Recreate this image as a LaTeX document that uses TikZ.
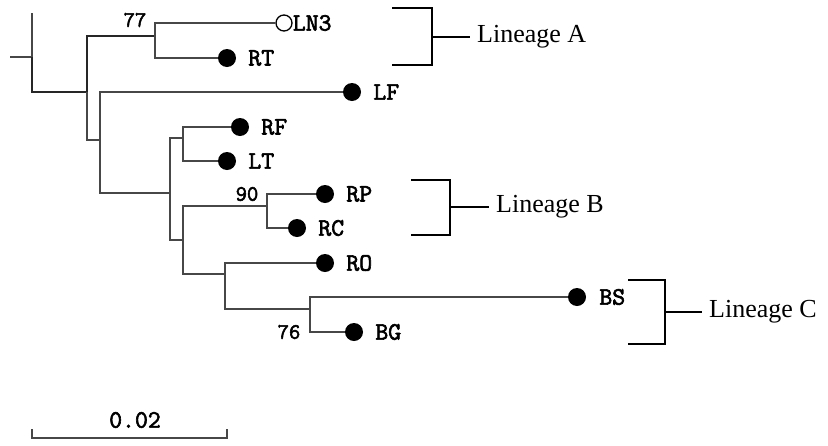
\documentclass[tikz,border=0pt]{standalone}
\usepackage{fontspec}
\setmainfont{Liberation Serif}
\setmonofont{Latin Modern Mono}[AutoFakeBold=2.5]
\tikzset{
  branch/.style={draw=black!72, line width=1.2pt},
  trunk/.style={draw=black!85, line width=1.7pt},
  leaf/.style={circle, fill=black, inner sep=0pt, minimum size=18pt},
  openleaf/.style={circle, draw=black, line width=1.3pt, fill=white, inner sep=0pt, minimum size=16pt},
  taxon/.style={font=\ttfamily\bfseries\fontsize{25}{27}\selectfont, inner sep=0pt, anchor=west},
  support/.style={font=\ttfamily\bfseries\fontsize{22}{24}\selectfont, inner sep=0pt},
  bracket/.style={draw=black, line width=1.8pt},
  lineage/.style={font=\fontsize{26}{28}\selectfont, inner sep=0pt, anchor=west},
}
\begin{document}
\begin{tikzpicture}[x=1pt, y=-1pt]
\useasboundingbox (0,0) rectangle (828,445);

% internal nodes of the tree
\coordinate (stub) at (10,57);
\coordinate (rtop) at (32,13);
\coordinate (root) at (32,57);
\coordinate (nA)   at (87,92);
\coordinate (n77)  at (155,36);
\coordinate (nB)   at (100,140);
\coordinate (nC)   at (170,193);
\coordinate (nD)   at (183,138);
\coordinate (nE)   at (183,240);
\coordinate (n90)  at (267,206);
\coordinate (nF)   at (225,274);
\coordinate (n76)  at (310,309);

% tips
\node[openleaf] (LN3) at (284,23) {};
\node[leaf] (RT) at (227,58) {};
\node[leaf] (LF) at (352,92) {};
\node[leaf] (RF) at (240,127) {};
\node[leaf] (LT) at (227,161) {};
\node[leaf] (RP) at (325,194) {};
\node[leaf] (RC) at (297,228) {};
\node[leaf] (RO) at (325,263) {};
\node[leaf] (BS) at (577,297) {};
\node[leaf] (BG) at (354,332) {};

% tip labels
\node[taxon] (tLN3) at ([xshift=0pt]LN3.east) {LN3};
\node[taxon] (tRT) at ([xshift=12pt]RT.east) {RT};
\node[taxon] (tLF) at ([xshift=12pt]LF.east) {LF};
\node[taxon] (tRF) at ([xshift=12pt]RF.east) {RF};
\node[taxon] (tLT) at ([xshift=12pt]LT.east) {LT};
\node[taxon] (tRP) at ([xshift=12pt]RP.east) {RP};
\node[taxon] (tRC) at ([xshift=12pt]RC.east) {RC};
\node[taxon] (tRO) at ([xshift=12pt]RO.east) {RO};
\node[taxon] (tBS) at ([xshift=13pt]BS.east) {BS};
\node[taxon] (tBG) at ([xshift=12pt]BG.east) {BG};

% branches
\draw[branch] (stub) -- (root);
\draw[branch] (rtop) -- (root);
\draw[trunk] (root) |- (nA);
\draw[trunk] (nA) |- (n77);
\draw[branch] (nA) |- (nB);
\draw[branch] (n77) |- (LN3);
\draw[branch] (n77) |- (RT);
\draw[branch] (nB) |- (LF);
\draw[branch] (nB) |- (nC);
\draw[branch] (nC) |- (nD);
\draw[branch] (nC) |- (nE);
\draw[branch] (nD) |- (RF);
\draw[branch] (nD) |- (LT);
\draw[branch] (nE) |- (n90);
\draw[branch] (nE) |- (nF);
\draw[branch] (n90) |- (RP);
\draw[branch] (n90) |- (RC);
\draw[branch] (nF) |- (RO);
\draw[branch] (nF) |- (n76);
\draw[branch] (n76) |- (BS);
\draw[branch] (n76) |- (BG);

% bootstrap support values
\node[support] (s77) at (135,20) {77};
\node[support] (s90) at (247,194) {90};
\node[support] (s76) at (289,332) {76};

% lineage brackets
\coordinate (aT) at (392,8);   \coordinate (aB) at (392,65);
\coordinate (aM) at (432,37);  \coordinate (aE) at (470,37);
\draw[bracket] (aT) -| (aM) |- (aB);
\draw[bracket] (aM) -- (aE);
\node[lineage] (LA) at ([xshift=7pt]aE) {Lineage A};

\coordinate (bT) at (411,180); \coordinate (bB) at (411,235);
\coordinate (bM) at (450,207); \coordinate (bE) at (489,207);
\draw[bracket] (bT) -| (bM) |- (bB);
\draw[bracket] (bM) -- (bE);
\node[lineage] (LB) at ([xshift=7pt]bE) {Lineage B};

\coordinate (cT) at (628,280); \coordinate (cB) at (628,344);
\coordinate (cM) at (665,312); \coordinate (cE) at (702,312);
\draw[bracket] (cT) -| (cM) |- (cB);
\draw[bracket] (cM) -- (cE);
\node[lineage] (LC) at ([xshift=7pt]cE) {Lineage C};

% scale bar
\coordinate (sbL) at (32,438);
\coordinate (sbR) at (227,438);
\draw[branch] ([yshift=9pt]sbL) -- (sbL) -- (sbR) -- ([yshift=9pt]sbR);
\node[font=\ttfamily\bfseries\fontsize{25}{27}\selectfont, inner sep=0pt] (sbt) at (135,420) {0.02};
\end{tikzpicture}
\end{document}
